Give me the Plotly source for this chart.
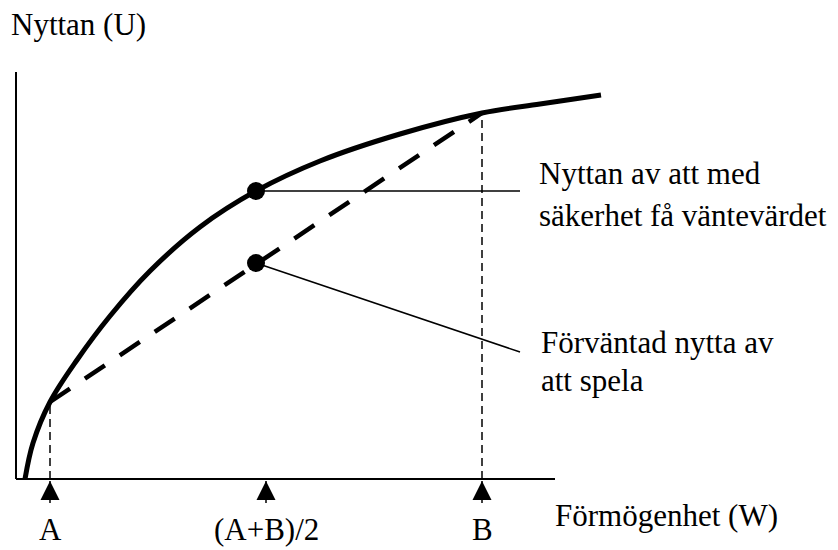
import plotly.graph_objects as go

# ---- data (diagram units: W = wealth, U = utility) ----
curve_w = [9, 17, 34, 61, 94, 134, 184, 240, 304, 384, 466, 524, 585]
curve_u = [0, 36, 77, 119, 163, 208, 252, 288, 318, 345, 366, 375, 384]

w_A, u_A = 34, 77          # point A on the curve
w_B, u_B = 466, 366        # point B on the curve
w_mid_tick = 250           # (A+B)/2 tick on axis
w_dot = 240                # where the two dots are drawn
u_certain = 288            # utility of the certain expected value
u_expected = 216           # expected utility of gamble

tick_w = [w_A, w_mid_tick, w_B]
tick_labels = ["A", "(A+B)/2", "B"]

callout_end_w = 504
callout1_u = [u_certain, u_certain]
callout2_u = [u_expected, 127]

axis_y_top = 407
axis_x_end = 539

label_y = "Nyttan (U)"
label_x = "Förmögenhet (W)"
text1 = ["Nyttan av att med", "säkerhet få väntevärdet"]
text2 = ["Förväntad nytta av", "att spela"]

FONT = "Liberation Serif"
FS = 31

fig = go.Figure()

# axes
fig.add_trace(go.Scatter(x=[0, 0, None, 0, axis_x_end], y=[axis_y_top, 0, None, 0, 0],
                         mode="lines", line=dict(color="black", width=2), hoverinfo="skip"))

# vertical dashed guides at A and B
fig.add_trace(go.Scatter(x=[w_A, w_A, None, w_B, w_B], y=[0, u_A, None, 0, u_B],
                         mode="lines", line=dict(color="black", width=1.5, dash="8px,5px"),
                         hoverinfo="skip"))

# small stems below tick arrows
stem_x, stem_y = [], []
for w in tick_w:
    stem_x += [w, w, None]
    stem_y += [-2, -24, None]
fig.add_trace(go.Scatter(x=stem_x, y=stem_y, mode="lines",
                         line=dict(color="black", width=1.5), hoverinfo="skip"))

# dashed chord between A and B
fig.add_trace(go.Scatter(x=[w_A, w_B], y=[u_A, u_B], mode="lines",
                         line=dict(color="black", width=4.5, dash="24px,18px"), hoverinfo="skip"))

# utility curve
fig.add_trace(go.Scatter(x=curve_w, y=curve_u, mode="lines", line_shape="spline",
                         line=dict(color="black", width=5), hoverinfo="skip"))

# callout lines
fig.add_trace(go.Scatter(x=[w_dot, callout_end_w], y=callout1_u, mode="lines",
                         line=dict(color="black", width=1.5), hoverinfo="skip"))
fig.add_trace(go.Scatter(x=[w_dot, callout_end_w], y=callout2_u, mode="lines",
                         line=dict(color="black", width=1.5), hoverinfo="skip"))

# dots
fig.add_trace(go.Scatter(x=[w_dot, w_dot], y=[u_certain, u_expected], mode="markers",
                         marker=dict(color="black", size=18), hoverinfo="skip"))

# tick arrows
fig.add_trace(go.Scatter(x=tick_w, y=[-2] * len(tick_w), mode="markers",
                         marker=dict(symbol="arrow-up", color="black", size=19,
                                     line=dict(width=0)), hoverinfo="skip"))

font = dict(family=FONT, size=FS, color="black")
ann = []

def add(x, y, t, xa="left"):
    ann.append(dict(x=x, y=y, text=t, showarrow=False, xanchor=xa, yanchor="middle",
                    font=font, xref="x", yref="y", borderpad=0))

add(-6, 455, label_y)
add(538, -36, label_x)
for w, t in zip(tick_w, tick_labels):
    add(w, -50, t, xa="center")
add(522, 306, text1[0])
add(522, 264, text1[1])
add(524, 137, text2[0])
add(524, 99, text2[1])

fig.update_layout(
    width=838, height=550, margin=dict(l=0, r=0, t=0, b=0),
    paper_bgcolor="white", plot_bgcolor="white", showlegend=False,
    xaxis=dict(range=[-16, 822], visible=False, fixedrange=True),
    yaxis=dict(range=[-71, 479], visible=False, fixedrange=True),
    annotations=ann,
)

fig.write_html("out.html", config={"displayModeBar": False},
               post_script="document.body.style.margin='0px';document.body.style.overflow='hidden';")
